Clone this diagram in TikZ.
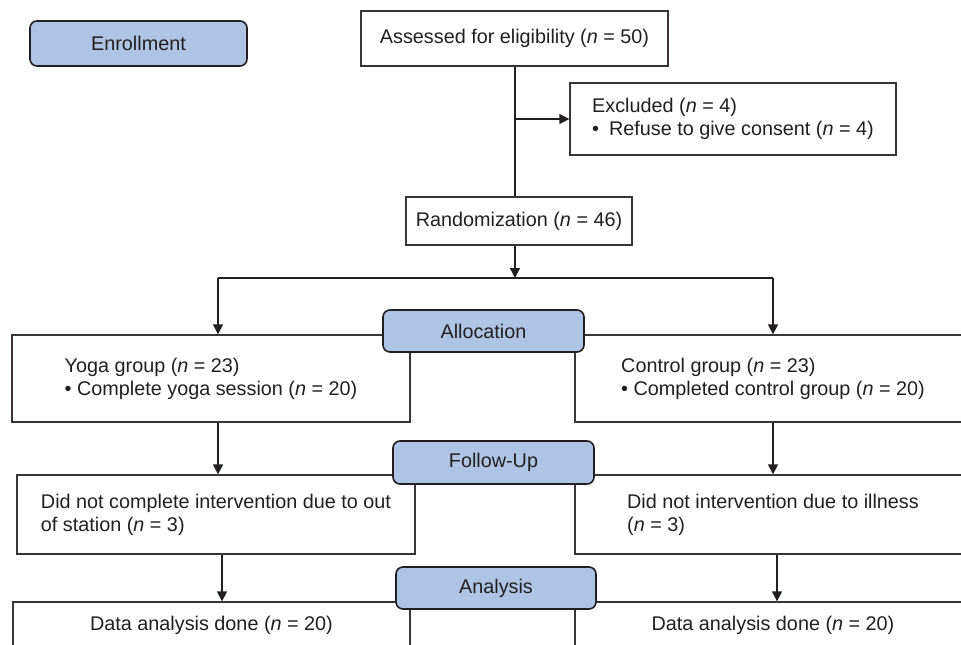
\documentclass[tikz,border=0pt]{standalone}
\usepackage{fontspec}
\setmainfont{Liberation Sans}
\usetikzlibrary{arrows.meta}
\definecolor{stageblue}{RGB}{174,196,228}
\definecolor{inkgray}{RGB}{35,31,32}
\newcommand{\nval}[1]{(\textit{n} = #1)}
\tikzset{
  flowbox/.style={draw=inkgray!90, line width=1.3pt, fill=white, text=inkgray, align=left, inner sep=0pt},
  stagebox/.style={draw=inkgray, line width=1.6pt, fill=stageblue, rounded corners=7pt, text=inkgray, inner sep=0pt},
  flowline/.style={draw=inkgray, line width=1.3pt},
  flowarrow/.style={flowline, -{Triangle[length=10pt,width=10pt]}},
}

\begin{document}
\begin{tikzpicture}[x=1pt, y=-1pt, font=\fontsize{19.8}{23}\selectfont]
			%%%%% START %%%%%
			\useasboundingbox (0,0) rectangle (961,645);
			\clip (0,0) rectangle (961,645);
			
			% flow boxes
			\node[flowbox, minimum width=307pt, minimum height=55pt] (assess) at (514.5,38.5) {Assessed for eligibility \nval{50}};
			\node[flowbox, minimum width=326pt, minimum height=72pt] (excl) at (733,119) {Excluded \nval{4}\\\textbullet\hspace{0.5em}Refuse to give consent \nval{4}};
			\node[flowbox, minimum width=226pt, minimum height=48pt] (rand) at (519,221) {Randomization \nval{46}};
			
			\node[flowbox, minimum width=398pt, minimum height=87pt] (yoga) at (211,378.5) {Yoga group \nval{23}\\\textbullet{} Complete yoga session \nval{20}};
			\node[flowbox, minimum width=396pt, minimum height=87pt] (ctrl) at (773,378.5) {Control group \nval{23}\\\textbullet{} Completed control group \nval{20}};
			
			\node[flowbox, minimum width=398pt, minimum height=79pt] (lossyoga) at (216,514.5) {Did not complete intervention due to out\\of station \nval{3}};
			\node[flowbox, minimum width=396pt, minimum height=79pt] (lossctrl) at (773,514.5) {Did not intervention due to illness\hspace{54pt}\\\nval{3}};
			
			\node[flowbox, minimum width=397pt, minimum height=46pt] (datayoga) at (211.5,625) {Data analysis done \nval{20}};
			\node[flowbox, minimum width=396pt, minimum height=46pt] (datactrl) at (773,625) {Data analysis done \nval{20}};
			
			% connectors
			\coordinate (split) at (515,278);
			\coordinate (lcolA) at (218,0);
			\coordinate (lcolB) at (222,0);
			\coordinate (rcolA) at (773,0);
			\coordinate (rcolB) at (777,0);
			
			\draw[flowline] (assess.south -| split) -- (rand.north -| split);
			\draw[flowarrow] (split |- excl.west) -- (excl.west);
			\draw[flowarrow] (rand.south -| split) -- (split);
			\draw[flowline] (split -| lcolA) -- (split -| rcolA);
			\draw[flowarrow] (split -| lcolA) -- (yoga.north -| lcolA);
			\draw[flowarrow] (split -| rcolA) -- (ctrl.north -| rcolA);
			\draw[flowarrow] (yoga.south -| lcolA) -- (lossyoga.north -| lcolA);
			\draw[flowarrow] (ctrl.south -| rcolA) -- (lossctrl.north -| rcolA);
			\draw[flowarrow] (lossyoga.south -| lcolB) -- (datayoga.north -| lcolB);
			\draw[flowarrow] (lossctrl.south -| rcolB) -- (datactrl.north -| rcolB);
			
			% stage labels
			\node[stagebox, minimum width=217pt, minimum height=45pt] (enrol) at (138.5,43.5) {Enrollment};
			\node[stagebox, minimum width=201pt, minimum height=42pt] (alloc) at (483.5,331) {Allocation};
			\node[stagebox, minimum width=201pt, minimum height=43pt] (follow) at (493.5,462.5) {Follow-Up};
			\node[stagebox, minimum width=200pt, minimum height=42pt] (analysis) at (496,588) {Analysis};
			%%%%% END %%%%%
\end{tikzpicture}
\end{document}
